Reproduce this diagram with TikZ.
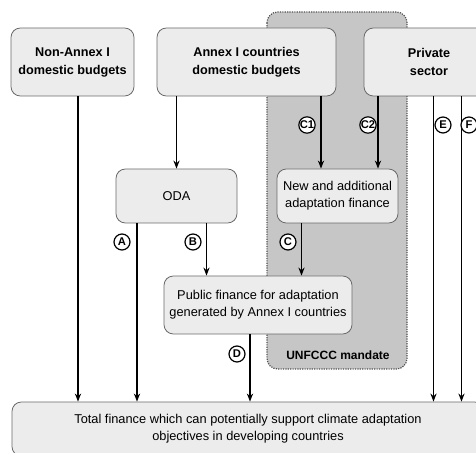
\documentclass[tikz,border=0pt]{standalone}
\usepackage{fontspec}
\setmainfont{Liberation Sans}
\usetikzlibrary{arrows.meta}
\definecolor{boxfill}{HTML}{ECECEC}
\definecolor{boxline}{HTML}{6A6A6A}
\definecolor{zonefill}{HTML}{C6C6C6}
\definecolor{zoneline}{HTML}{505050}
\tikzset{
	finbox/.style={draw=boxline, fill=boxfill, line width=0.6pt, rounded corners=7pt, align=center, inner sep=0pt, font=\fontsize{9.6}{12.6}\selectfont},
	srcbox/.style={finbox, font=\fontsize{9.5}{13.5}\selectfont\bfseries},
	flow/.style={draw=black, line width=1pt, -{Stealth[length=6pt,width=4.6pt]}},
	lettertag/.style={circle, draw=black, fill=white, line width=0.9pt, minimum size=12pt, inner sep=0pt, font=\fontsize{8.4}{8.4}\selectfont\bfseries},
	mandatezone/.style={fill=zonefill, draw=zoneline, line width=0.9pt, dash pattern={on 0.9pt off 0.9pt}, rounded corners=8pt}
}
\begin{document}
\begin{tikzpicture}[x=0.75pt,y=0.75pt,yscale=-1,xscale=1]
		\useasboundingbox (0,0) rectangle (476,453);
		\clip (0,0) rectangle (476,453);
		\draw [mandatezone] (267,12) rectangle (407,369);
		\node [srcbox, minimum width=92.25pt, minimum height=51pt] (nonannex) at (72.5,62) {Non-Annex I\\domestic budgets};
		\node [srcbox, minimum width=134.25pt, minimum height=51pt] (annex) at (246.5,62) {Annex I countries\\domestic budgets};
		\node [srcbox, minimum width=97.5pt, minimum height=51pt] (private) at (429,62) {Private\\sector};
		\node [finbox, minimum width=90.75pt, minimum height=40.5pt] (oda) at (176.5,196) {ODA};
		\node [finbox, minimum width=90.75pt, minimum height=40.5pt] (newfin) at (337.5,196) {New and additional\\adaptation finance};
		\node [finbox, minimum width=141pt, minimum height=43.5pt] (pubfin) at (258,305) {Public finance for adaptation\\generated by Annex I countries};
		\node [finbox, minimum width=354pt, minimum height=40.5pt] (total) at (248,429) {Total finance which can potentially support climate adaptation\\objectives in developing countries};
		\node [font=\fontsize{9}{11}\selectfont\bfseries] (mandatelbl) at (338,355) {UNFCCC mandate};
		\coordinate (colNA) at (78,0);
		\coordinate (colA) at (137,0);
		\coordinate (colB) at (206.5,0);
		\coordinate (colD) at (250,0);
		\coordinate (colC) at (301.5,0);
		\coordinate (colCa) at (321,0);
		\coordinate (colCb) at (378,0);
		\coordinate (colE) at (433.5,0);
		\coordinate (colF) at (461.5,0);
		\draw [flow] (nonannex.south -| colNA) -- (total.north -| colNA);
		\draw [flow] (annex.south -| oda.north) -- (oda.north);
		\draw [flow] (oda.south -| colA) -- (total.north -| colA);
		\draw [flow] (oda.south -| colB) -- (pubfin.north -| colB);
		\draw [flow] (annex.south -| colCa) -- (newfin.north -| colCa);
		\draw [flow] (private.south -| colCb) -- (newfin.north -| colCb);
		\draw [flow] (newfin.south -| colC) -- (pubfin.north -| colC);
		\draw [flow] (pubfin.south -| colD) -- (total.north -| colD);
		\draw [flow] (private.south -| colE) -- (total.north -| colE);
		\draw [flow] (private.south -| colF) -- (total.north -| colF);
		\node [lettertag] (tagA) at (122,242) {A};
		\node [lettertag] (tagB) at (193,242) {B};
		\node [lettertag] (tagC) at (288,242) {C};
		\node [lettertag] (tagD) at (237,354) {D};
		\node [lettertag] (tagCa) at (307,125) {C1};
		\node [lettertag] (tagCb) at (368,125) {C2};
		\node [lettertag] (tagE) at (443,125) {E};
		\node [lettertag] (tagF) at (469,125) {F};
		\end{tikzpicture}
\end{document}
